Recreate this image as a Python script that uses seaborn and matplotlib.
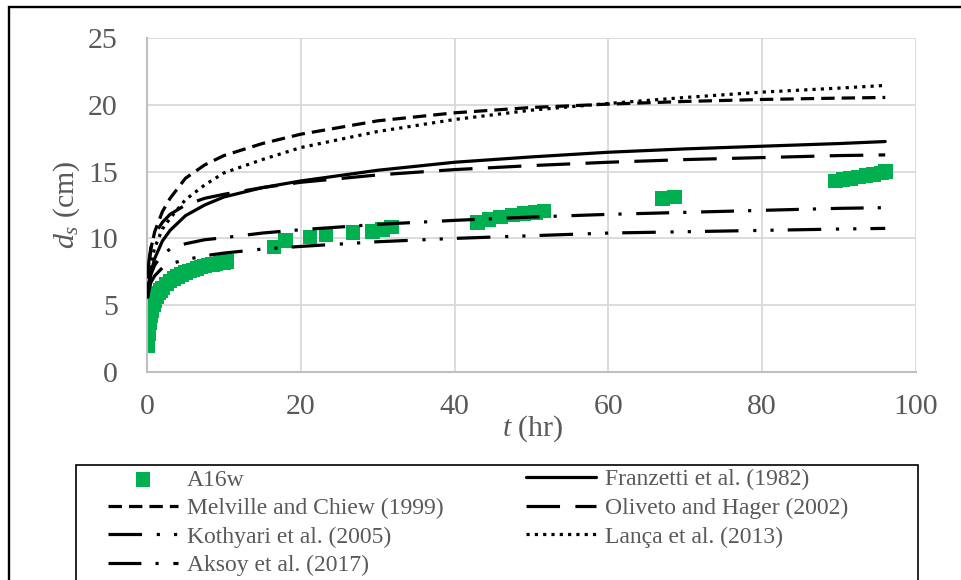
import numpy as np
import pandas as pd
import matplotlib
matplotlib.use("Agg")
import matplotlib.pyplot as plt
import seaborn as sns
from matplotlib.patches import Rectangle

# ---------------- data ----------------
obs_t = [0.05, 0.1, 0.17, 0.25, 0.33, 0.5, 0.67, 0.83, 1.0, 1.25, 1.5, 1.75, 2.0, 2.5, 3.0,
         3.5, 4.0, 4.5, 5.0, 5.5, 6.0, 6.5, 7.0, 7.5, 8.0, 8.5, 9.0, 9.5, 10.0, 10.4,
         16.5, 18.0, 21.2, 23.3, 26.8, 29.3, 30.6, 31.8,
         43.0, 44.5, 46.0, 47.5, 49.0, 50.5, 51.6,
         67.0, 68.6,
         89.5, 90.5, 91.5, 92.5, 93.5, 94.5, 95.5, 96.0]
obs_d = [2.0, 2.4, 2.9, 3.3, 3.7, 4.2, 4.6, 5.0, 5.3, 5.6, 5.9, 6.1, 6.3, 6.6, 6.8,
         7.0, 7.15, 7.3, 7.45, 7.55, 7.65, 7.75, 7.85, 7.95, 8.0, 8.05, 8.1, 8.15, 8.2, 8.25,
         9.35, 9.85, 10.1, 10.25, 10.45, 10.5, 10.65, 10.85,
         11.2, 11.4, 11.6, 11.75, 11.85, 11.95, 12.05,
         13.0, 13.1,
         14.3, 14.4, 14.5, 14.6, 14.7, 14.8, 14.9, 15.0]

t_curve = [0.1, 0.25, 0.5, 1, 2, 3, 5, 7.5, 10, 15, 20, 30, 40, 50, 60, 70, 80, 90, 96]
franzetti = [5.6, 6.5, 7.4, 8.5, 9.8, 10.6, 11.7, 12.5, 13.1, 13.8, 14.3, 15.1, 15.7, 16.1,
             16.45, 16.7, 16.9, 17.1, 17.25]
melville = [7.0, 8.0, 9.2, 10.5, 12.0, 13.0, 14.5, 15.5, 16.2, 17.1, 17.8, 18.8, 19.4, 19.8,
            20.05, 20.25, 20.4, 20.5, 20.55]
oliveto = [7.2, 8.3, 9.3, 10.3, 11.2, 11.8, 12.5, 13.0, 13.3, 13.8, 14.2, 14.75, 15.15, 15.45,
           15.7, 15.9, 16.05, 16.2, 16.25]
kothyari = [5.6, 6.1, 6.7, 7.2, 7.8, 8.1, 8.4, 8.7, 8.9, 9.2, 9.4, 9.75, 10.0, 10.2,
            10.4, 10.5, 10.6, 10.7, 10.75]
lanca = [6.5, 7.3, 8.2, 9.3, 10.7, 11.5, 12.9, 14.0, 14.9, 15.9, 16.8, 18.0, 18.9, 19.6,
         20.1, 20.55, 20.95, 21.25, 21.45]
aksoy = [6.0, 6.7, 7.3, 8.0, 8.8, 9.2, 9.6, 9.9, 10.05, 10.4, 10.65, 11.05, 11.35, 11.6,
         11.8, 11.95, 12.1, 12.25, 12.3]

x_ticks = [0, 20, 40, 60, 80, 100]
y_ticks = [0, 5, 10, 15, 20, 25]

# ---------------- style ----------------
sns.set_style("white")
plt.rcParams["font.family"] = ["Liberation Serif", "DejaVu Serif"]
plt.rcParams["mathtext.fontset"] = "custom"
plt.rcParams["mathtext.rm"] = "Liberation Serif"
plt.rcParams["mathtext.it"] = "Liberation Serif:italic"

W, H = 962, 580
fig = plt.figure(figsize=(W / 100, H / 100), dpi=100)
fig.patch.set_facecolor("white")
ax = fig.add_axes([147 / W, 1 - 372 / H, (916 - 147) / W, (372 - 38) / H])

GREEN = "#00B050"
TXT = "#595959"
LW = 2.3

sns.scatterplot(x=obs_t, y=obs_d, ax=ax, marker="s", s=110, color=GREEN,
                edgecolor="none", linewidth=0, label="A16w", zorder=2)

curves = [
    ("Franzetti et al. (1982)", franzetti, "-"),
    ("Melville and Chiew (1999)", melville, (0, (4.2, 2.2))),
    ("Oliveto and Hager (2002)", oliveto, (0, (10.5, 4.8))),
    ("Kothyari et al. (2005)", kothyari, (0, (10.5, 4.6, 1, 4.4, 1, 4.4))),
    ("Lança et al. (2013)", lanca, (0, (1, 1.6))),
    ("Aksoy et al. (2017)", aksoy, (0, (10.3, 4.4, 1, 4.6))),
]
for name, vals, ls in curves:
    sns.lineplot(x=t_curve, y=vals, ax=ax, color="black", linewidth=LW,
                 linestyle=ls, label=name, errorbar=None, zorder=3)

ax.set_xlim(0, 100)
ax.set_ylim(0, 25)
ax.set_xticks(x_ticks)
ax.set_yticks(y_ticks)
ax.grid(True, color="#d9d9d9", linewidth=1.3)
ax.set_axisbelow(True)
for side in ["top", "right"]:
    ax.spines[side].set_visible(False)
for side in ["left", "bottom"]:
    ax.spines[side].set_color("#bfbfbf")
    ax.spines[side].set_linewidth(1.5)
ax.tick_params(axis="both", length=0, labelsize=21.5, colors=TXT)
ax.tick_params(axis="y", pad=21)
ax.tick_params(axis="x", pad=16)

ax.set_ylabel(r"$d_s$ (cm)", fontsize=21.5, color=TXT)
ax.yaxis.set_label_coords(-0.085, 0.5)
ax.set_xlabel(r"$t$ (hr)", fontsize=21.5, color=TXT)
ax.xaxis.set_label_coords(0.502, -0.125)

# legend (row-major order in two columns)
handles, labels = ax.get_legend_handles_labels()
if ax.get_legend() is not None:
    ax.get_legend().remove()
hmap = dict(zip(labels, handles))
order = ["A16w", "Melville and Chiew (1999)", "Kothyari et al. (2005)", "Aksoy et al. (2017)",
         "Franzetti et al. (1982)", "Oliveto and Hager (2002)", "Lança et al. (2013)"]
leg = fig.legend([hmap[k] for k in order], order, loc="upper left",
                 bbox_to_anchor=(108 / W, 1 - 469 / H), ncol=2, frameon=False,
                 fontsize=17, borderpad=0, borderaxespad=0, handlelength=2.95,
                 handletextpad=0.38, columnspacing=3.5, labelspacing=0.3)
for txt in leg.get_texts():
    txt.set_color(TXT)

# legend frame and outer chart frame
fig.patches.append(Rectangle((76 / W, 1 - 610 / H), (918 - 76) / W, (610 - 465) / H,
                             transform=fig.transFigure, fill=False, edgecolor="black",
                             linewidth=1.2, zorder=5))
fig.patches.append(Rectangle((9 / W, 1 - 620 / H), (1000 - 9) / W, (620 - 7) / H,
                             transform=fig.transFigure, fill=False, edgecolor="black",
                             linewidth=1.7, zorder=5))

fig.savefig("out.png", dpi=100)
